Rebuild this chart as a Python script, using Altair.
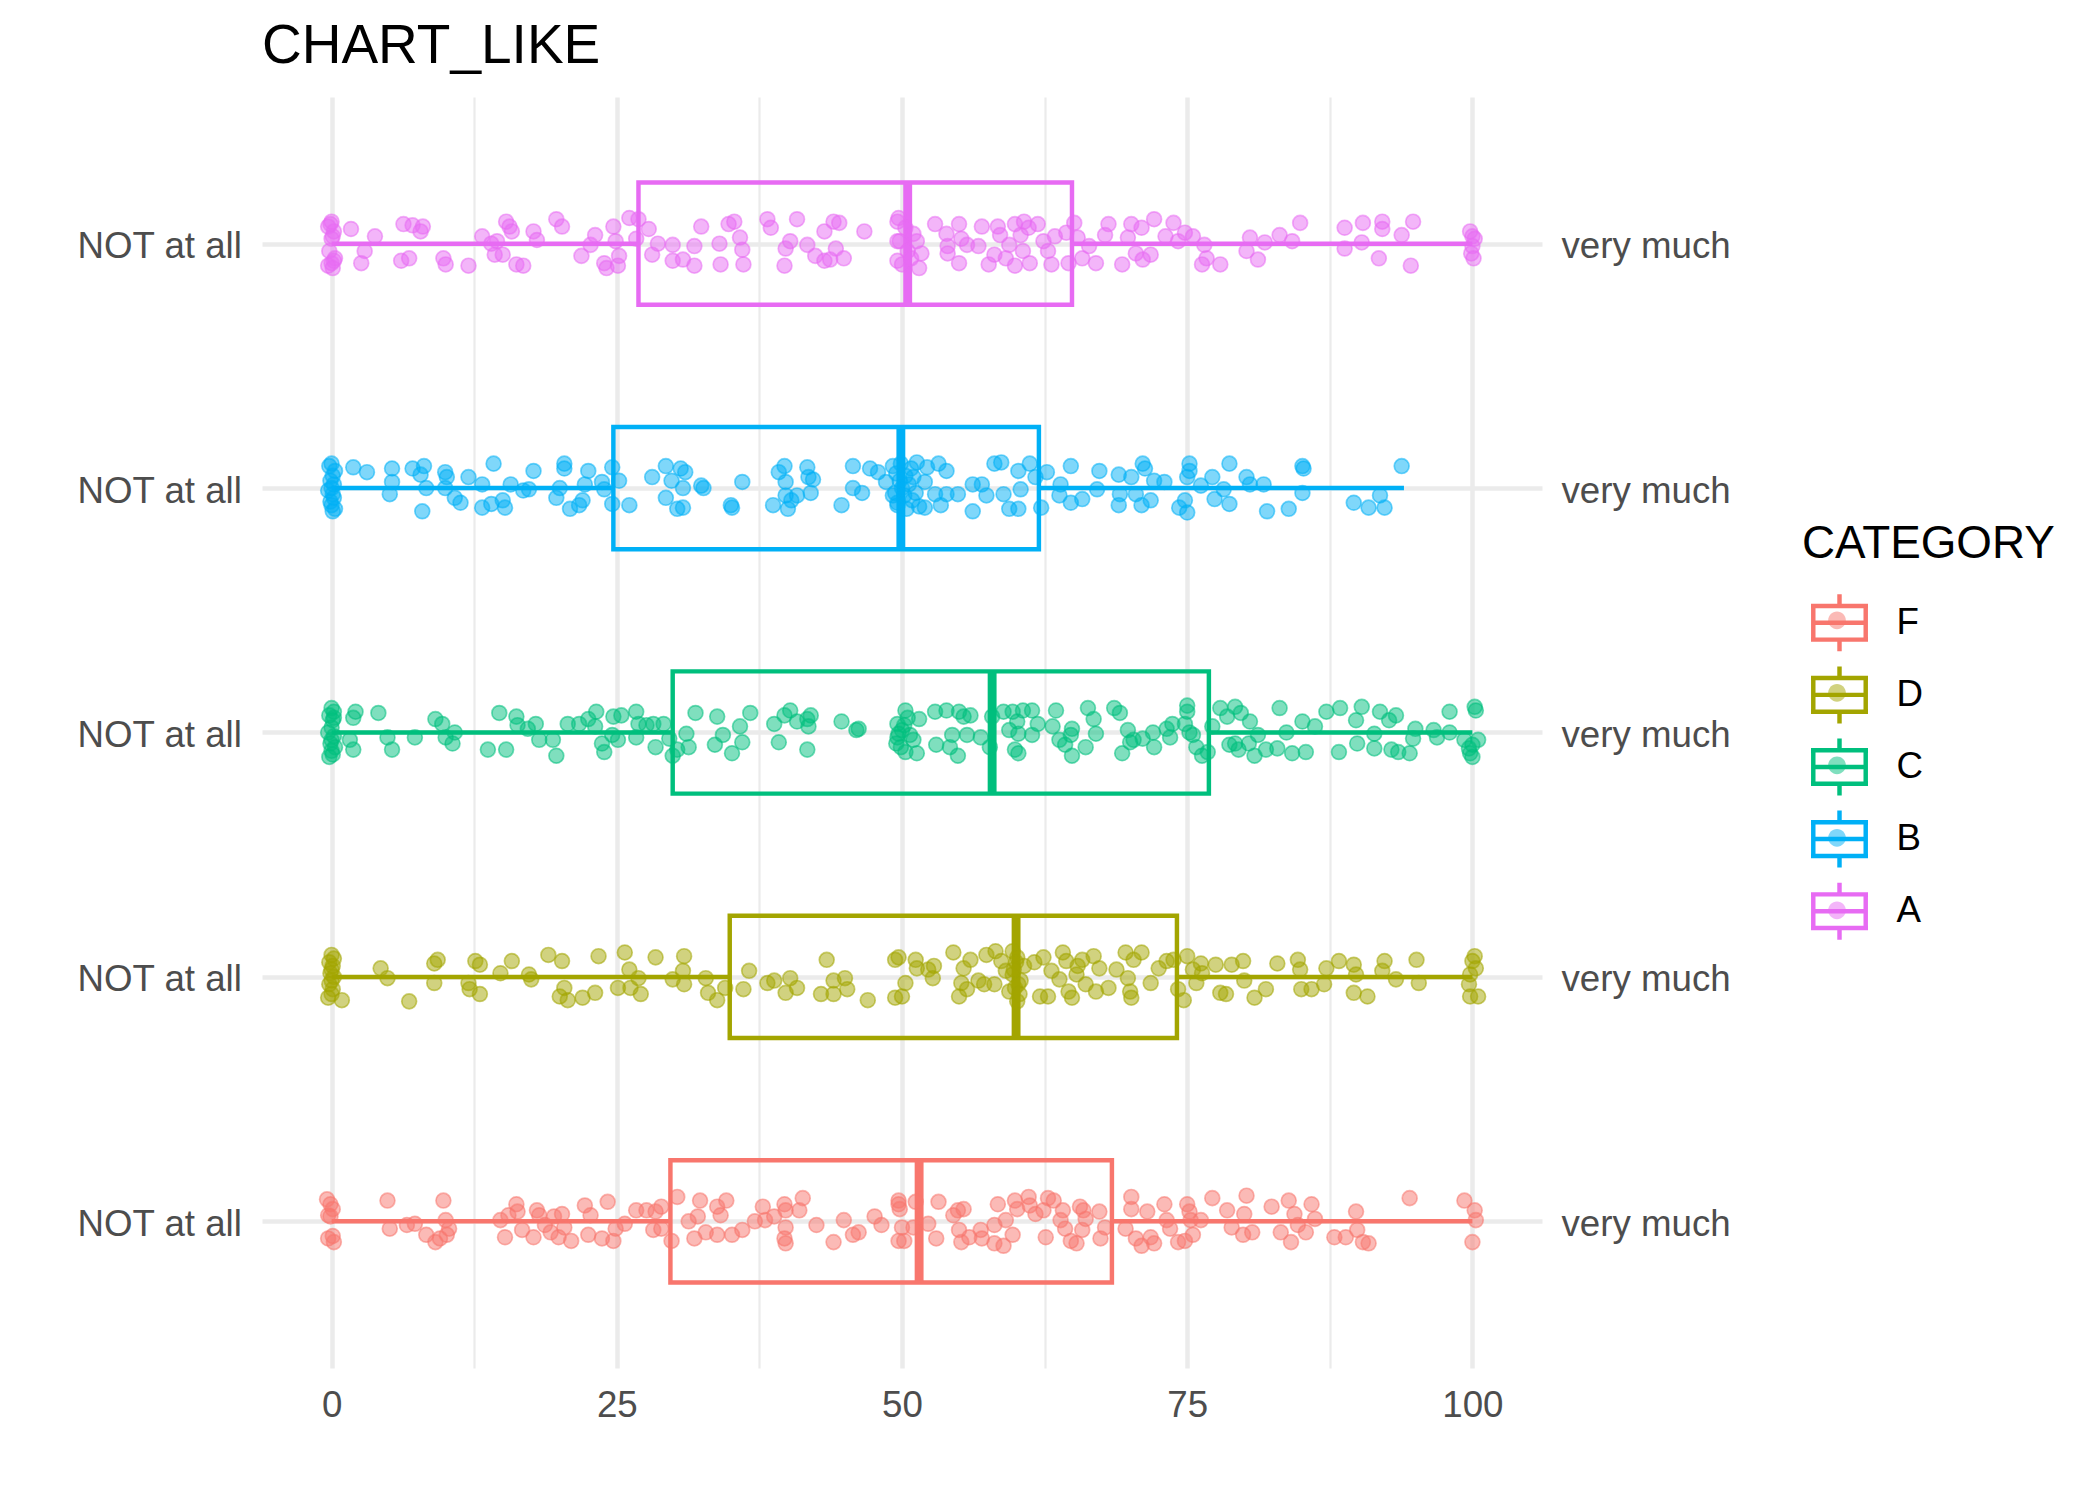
import altair as alt
import pandas as pd

FONT = "Liberation Sans"
TITLE = "CHART_LIKE"
LEGEND_TITLE = "CATEGORY"
CATEGORIES = ["F", "D", "C", "B", "A"]  # bottom to top
COLORS = ["#F8766D", "#A3A500", "#00BF7D", "#00B0F6", "#E76BF3"]
FILL_COLORS = ["rgba(248,118,109,0.5)", "rgba(163,165,0,0.5)", "rgba(0,191,125,0.5)",
               "rgba(0,176,246,0.5)", "rgba(231,107,243,0.5)"]
LEFT_LABEL = "NOT at all"
RIGHT_LABEL = "very much"
X_TICKS = [0, 25, 50, 75, 100]
X_MINOR = [12.5, 37.5, 62.5, 87.5]

# box statistics, order F, D, C, B, A
Q1 = [29.7, 34.9, 29.9, 24.7, 26.9]
MED = [51.5, 60.0, 57.9, 49.9, 50.5]
Q3 = [68.4, 74.1, 76.9, 62.0, 64.9]
LO = [0, 0, 0, 0, 0]
HI = [100, 100, 100, 94, 100]

# (value, vertical jitter in category units)
A_PTS = [(0.0,0.09),(-0.3,0.07),(0.2,0.05),(0.1,0.03),(-0.2,-0.03),(0.3,-0.06),(0.0,-0.08),(0.1,-0.1),(-0.1,0.08),(0.2,-0.07),(0.0,0.02),(-0.3,-0.09),
(1.7,0.06),(3.8,0.03),(2.9,-0.03),(2.6,-0.08),(6.3,0.08),(7.1,0.075),(8.0,0.07),(7.8,0.05),(6.1,-0.07),(6.8,-0.06),(9.8,-0.06),(10.0,-0.085),(12.0,-0.09),(13.2,0.03),(14.0,0.0),(14.5,0.01),(14.3,-0.045),(15.0,-0.045),(15.3,0.09),(15.6,0.07),(15.8,0.05),(16.2,-0.085),(16.8,-0.09),(17.7,0.05),(18.0,0.015),(19.7,0.1),(20.2,0.07),(21.9,-0.05),(22.7,-0.005),(23.1,0.035),(23.9,-0.08),(24.1,-0.1),(25.1,-0.09),(24.7,0.07),(24.9,0.01),(25.2,-0.05),(26.1,0.105),(26.9,0.1),(26.7,0.02),(27.8,0.06),(28.1,-0.045),(28.6,0.0),(29.9,-0.005),(29.9,-0.07),(30.8,-0.065),(31.8,-0.01),(31.8,-0.09),(32.4,0.07),(34.0,0.0),(34.1,-0.085),(34.8,0.08),(35.3,0.09),(35.8,0.025),(36.0,-0.025),(36.1,-0.085),(38.2,0.1),(38.5,0.065),(39.7,-0.09),(39.8,-0.02),(40.2,0.01),(40.8,0.1),(41.7,-0.005),(42.4,-0.05),(43.2,0.05),(43.2,-0.07),(43.7,-0.065),(44.0,0.09),(44.5,0.085),(44.2,-0.02),(44.9,-0.06),(46.7,0.05),(49.6,0.09),(49.6,0.01),(49.6,-0.07),
(49.7,0.105),(49.8,0.01),(50.0,-0.085),(50.3,0.065),(50.5,-0.03),(50.8,-0.06),(51.3,0.01),(51.5,-0.1),(51.7,-0.04),(51.0,0.04),
(52.9,0.08),(53.9,0.04),(54.0,-0.01),(54.0,-0.04),(55.0,0.08),(55.2,0.02),(55.0,-0.08),(55.7,-0.005),(56.7,-0.01),(57.0,0.07),(57.6,-0.085),(58.1,-0.045),(58.4,0.07),(58.6,0.035),(59.1,-0.06),(59.4,-0.005),(59.9,0.08),(59.9,-0.09),(60.4,0.035),(60.6,-0.03),(60.7,0.09),(61.1,0.065),(61.2,-0.08),(61.9,0.08),(62.4,0.01),(62.8,-0.03),(63.1,-0.085),(63.4,0.03),(64.4,0.045),(64.6,-0.08),(65.1,0.085),(65.4,0.025),(65.8,-0.06),(66.4,-0.01),(67.0,-0.08),(67.8,0.035),(68.1,0.08),(69.3,-0.085),(69.8,0.025),(70.1,0.08),(70.5,-0.04),(71.0,0.065),(71.1,-0.065),(71.8,-0.045),(72.1,0.1),(73.1,0.03),(73.8,0.085),(74.2,0.01),(74.8,0.045),(75.5,0.03),(76.3,-0.085),(76.5,-0.005),(76.7,-0.06),(77.9,-0.085),(80.2,-0.03),(80.5,0.025),(81.2,-0.065),(81.8,0.005),(83.1,0.035),(84.2,0.01),(84.9,0.085),(88.8,0.065),(88.8,-0.02),(90.4,0.085),(90.3,0.005),(91.8,-0.06),(92.1,0.09),(92.1,0.06),(93.8,0.035),(94.8,0.09),(94.6,-0.09),
(99.8,0.05),(100.2,0.02),(100.0,-0.01),(99.9,-0.04),(100.1,-0.06),(100.0,0.03)]

B_PTS = [(0.0,0.1),(-0.2,0.09),(0.3,0.07),(0.1,0.05),(-0.1,0.03),(0.2,0.015),(0.0,0.0),(-0.3,-0.01),(0.1,-0.025),(0.2,-0.04),(-0.1,-0.055),(0.0,-0.07),(0.3,-0.085),(0.1,-0.095),
(1.9,0.085),(3.1,0.065),(5.3,0.08),(5.3,0.025),(5.1,-0.025),(7.1,0.08),(8.1,0.09),(7.8,0.055),(8.3,0.0),(7.95,-0.095),(9.96,0.065),(10.1,0.045),(9.96,0.0),(10.8,-0.04),(11.3,-0.06),(12.0,0.045),(13.2,0.015),(13.2,-0.08),(14.2,0.1),(14.0,-0.065),(15.0,-0.05),(15.2,-0.08),(15.7,0.015),(16.8,-0.01),(17.3,-0.005),(17.7,0.07),(19.7,-0.04),(20.0,0.0),(20.4,0.1),(20.4,0.08),(20.9,-0.085),(21.7,-0.07),(22.0,-0.05),(22.2,0.015),(22.5,0.07),(23.7,0.025),(23.9,-0.005),(24.6,0.085),(24.6,-0.065),(25.2,0.03),(26.1,-0.07),(28.1,0.045),(29.3,0.09),(29.3,-0.04),(29.8,0.03),(30.3,-0.085),(30.6,0.08),(31.0,0.065),(30.8,0.0),(30.8,-0.08),(32.6,0.0),(32.4,0.01),(35.0,-0.07),(35.1,-0.08),(36.0,0.025),(38.7,-0.07),(39.2,0.065),(39.7,0.09),(39.8,0.025),(39.8,-0.03),(40.0,-0.085),(40.3,-0.05),(40.8,-0.03),(41.7,0.085),(41.8,0.045),(42.2,0.035),(42.0,-0.02),(44.7,-0.07),(45.7,0.09),(45.7,0.0),(46.5,-0.02),(47.2,0.08),(47.9,0.065),(48.6,0.025),(49.2,-0.03),(49.6,-0.07),
(49.2,0.09),(49.5,0.06),(49.8,0.03),(50.0,0.0),(50.2,-0.03),(49.6,-0.06),(50.4,-0.085),(50.8,0.08),(51.0,0.045),(50.6,0.015),(51.2,-0.02),(50.9,-0.05),(51.5,-0.075),(49.9,0.1),(50.3,0.05),(49.4,-0.02),
(51.3,0.105),(52.2,0.085),(53.2,0.1),(53.9,0.07),(52.0,0.025),(52.0,-0.08),(53.4,-0.07),(52.9,-0.025),(53.9,-0.025),(54.9,-0.025),(56.2,0.015),(56.2,-0.095),(57.0,0.015),(57.4,-0.03),(58.1,0.1),(58.7,0.105),(58.9,-0.025),(59.4,-0.085),(60.2,0.07),(60.2,-0.085),(60.4,-0.005),(61.2,0.1),(61.7,0.045),(62.2,-0.08),(62.7,0.065),(63.9,0.015),(63.8,-0.03),(64.8,0.09),(64.8,-0.06),(65.8,-0.045),(67.3,0.07),(67.1,-0.005),(69.0,0.055),(69.0,-0.07),(69.1,-0.025),(70.1,0.045),(70.5,-0.025),(71.1,0.1),(71.3,0.08),(71.0,-0.07),(71.8,-0.05),(72.1,0.03),(73.0,0.025),(74.3,-0.08),(74.8,-0.05),(75.0,-0.1),(75.2,0.1),(75.2,0.07),(75.0,0.045),(76.2,0.01),(77.2,0.045),(77.4,-0.045),(78.2,-0.005),(78.7,0.1),(78.7,-0.065),(80.2,0.045),(80.5,0.015),(81.7,0.015),(82.0,-0.095),(83.9,-0.085),(85.1,0.09),(85.2,0.08),(85.1,-0.02),(89.6,-0.06),(90.9,-0.08),(91.9,-0.03),(92.3,-0.08),(93.8,0.09)]

C_PTS = [(0.0,0.1),(0.2,0.085),(-0.2,0.07),(0.1,0.05),(0.0,0.02),(-0.3,0.0),(0.2,-0.015),(0.0,-0.03),(-0.1,-0.045),(0.3,-0.06),(0.0,-0.075),(0.1,-0.09),(-0.2,-0.1),(0.2,0.06),
(2.1,0.085),(1.9,0.06),(1.6,-0.03),(1.9,-0.07),(4.1,0.08),(4.9,-0.02),(5.3,-0.07),(7.3,-0.02),(9.1,0.055),(9.7,0.035),(10.0,-0.02),(10.6,-0.045),(10.8,0.0),(13.7,-0.07),(14.7,0.08),(15.3,-0.07),(16.2,0.065),(16.3,0.03),(17.2,0.015),(17.9,0.035),(18.2,-0.03),(19.4,-0.03),(19.7,-0.095),(20.7,0.035),(21.7,0.035),(22.5,0.055),(23.2,0.085),(23.1,0.025),(23.7,-0.045),(23.9,-0.08),(24.6,-0.01),(24.7,0.065),(25.4,0.07),(25.1,-0.03),(26.7,0.085),(26.9,0.035),(26.7,-0.02),(27.6,0.03),(28.2,0.035),(28.4,-0.06),(29.1,0.035),(29.6,-0.025),(29.9,-0.095),(30.3,-0.07),(31.1,-0.005),(31.3,-0.06),(31.9,0.08),(33.6,-0.05),(33.8,0.065),(34.3,-0.01),(35.1,-0.085),(35.8,0.025),(36.0,-0.04),(36.7,0.08),(38.8,0.035),(39.2,-0.04),(39.7,0.07),(40.2,0.09),(40.8,0.045),(41.7,0.055),(42.0,0.07),(41.7,-0.07),(41.8,0.025),(44.7,0.045),(46.0,0.01),(46.2,0.015),(49.6,0.035),(49.6,-0.02),
(50.3,0.09),(50.2,0.03),(50.0,0.01),(50.7,-0.01),(51.0,-0.03),(50.3,-0.08),(51.5,0.055),(51.3,-0.085),(49.7,-0.005),(49.5,-0.045),(50.5,0.06),(49.9,-0.06),
(52.9,0.085),(53.9,0.09),(55.0,0.085),(55.4,0.065),(56.0,0.07),(54.4,-0.01),(53.0,-0.05),(54.2,-0.06),(54.9,-0.095),(55.7,-0.01),(56.9,-0.02),(57.7,-0.06),(57.9,0.065),(58.9,0.085),(59.7,0.085),(60.6,0.09),(61.4,0.09),(60.1,0.045),(59.4,0.01),(60.2,-0.005),(59.9,-0.07),(60.2,-0.085),(61.4,-0.01),(61.9,0.035),(63.2,0.025),(63.5,0.09),(63.8,-0.03),(64.3,-0.05),(64.8,-0.01),(64.9,0.015),(64.9,-0.095),(66.1,-0.06),(66.3,0.1),(66.8,0.055),(67.0,-0.005),(68.6,0.1),(69.1,0.08),(69.3,-0.085),(69.8,0.01),(70.0,-0.04),(70.3,-0.03),(71.1,-0.025),(72.0,0.0),(72.1,-0.06),(73.2,0.015),(73.7,0.035),(73.5,-0.02),(75.0,0.11),(75.0,0.085),(74.8,0.035),(75.2,0.0),(75.5,-0.01),(75.8,-0.06),(76.3,-0.095),(76.8,-0.08),(77.2,0.025),(77.9,0.1),(78.5,0.065),(79.2,0.105),(79.7,0.08),(78.7,-0.05),(79.2,-0.045),(79.5,-0.07),(80.5,0.045),(80.4,-0.045),(80.9,-0.095),(81.2,-0.01),(81.9,-0.07),(82.9,-0.065),(83.1,0.1),(83.7,0.0),(84.2,-0.085),(85.1,0.045),(85.4,-0.08),(86.2,0.025),(87.2,0.085),(88.4,0.1),(88.3,-0.08),(89.8,0.05),(89.9,-0.045),(90.3,0.105),(91.4,-0.005),(91.4,-0.065),(91.9,0.085),(92.7,0.05),(92.9,-0.07),(93.3,0.07),(93.5,-0.08),(94.5,-0.085),(94.8,-0.025),(95.0,0.015),(96.6,0.01),(96.9,-0.02),(98.0,0.085),(98.0,0.0),
(100.2,0.105),(100.3,0.09),(99.3,-0.03),(99.7,-0.065),(99.8,-0.085),(100.0,-0.1),(100.5,-0.03),(100.0,-0.05)]

D_PTS = [(0.0,0.09),(0.2,0.075),(-0.2,0.06),(0.1,0.045),(0.0,0.03),(-0.1,0.015),(0.2,0.0),(0.0,-0.015),(-0.2,-0.03),(0.1,-0.05),(0.0,-0.07),(-0.3,-0.085),
(0.9,-0.095),(4.3,0.035),(4.9,-0.005),(6.8,-0.1),(9.0,0.055),(9.3,0.07),(9.0,-0.025),(12.0,-0.025),(12.1,-0.05),(12.6,0.065),(13.0,0.05),(13.0,-0.07),(14.8,0.015),(15.8,0.065),(17.3,0.01),(17.5,-0.01),(19.0,0.09),(20.2,0.065),(20.0,-0.08),(20.4,-0.045),(20.7,-0.095),(22.0,-0.085),(23.1,-0.065),(23.4,0.085),(25.1,-0.045),(25.7,0.1),(26.1,0.03),(26.2,-0.045),(26.9,-0.005),(27.1,-0.07),(28.4,0.08),(29.9,-0.01),(30.8,0.025),(30.9,0.085),(30.9,-0.03),(32.8,-0.005),(33.0,-0.065),(33.8,-0.095),(34.5,-0.045),(36.6,0.025),(36.1,-0.05),(38.2,-0.025),(38.8,-0.015),(39.8,-0.065),(40.2,-0.005),(40.8,-0.045),(42.9,-0.07),(43.4,0.07),(44.0,-0.015),(44.0,-0.07),(45.0,-0.005),(45.2,-0.05),(47.0,-0.095),(49.4,0.07),(49.4,-0.085),
(49.7,0.08),(50.0,-0.08),(50.3,-0.025),(51.2,0.07),(51.3,0.035),(52.3,0.03),(52.8,0.045),(52.7,-0.005),(54.5,0.1),(55.4,0.035),(56.0,0.07),(55.2,-0.025),(55.0,-0.08),(55.7,-0.05),(56.7,-0.015),(57.2,-0.03),(57.4,0.09),(58.2,0.105),(58.1,-0.03),(58.7,0.065),(59.1,0.025),(59.4,-0.06),(59.7,0.105),(60.1,0.08),(59.7,0.01),(59.9,-0.045),(60.1,-0.1),(60.4,-0.015),(60.7,0.045),(61.6,0.06),(62.1,-0.08),(62.4,0.08),(62.8,-0.08),(63.1,0.025),(63.8,-0.01),(64.1,0.1),(64.4,0.065),(64.6,-0.06),(64.9,-0.085),(65.3,0.01),(65.4,0.045),(65.8,0.07),(66.1,-0.03),(66.8,0.085),(67.0,-0.06),(67.3,0.035),(68.1,-0.045),(68.8,0.03),(69.6,0.1),(69.8,-0.005),(70.0,-0.06),(70.1,-0.085),(70.3,0.07),(71.0,0.1),(71.8,-0.025),(72.5,0.035),(73.2,0.065),(73.8,0.07),(74.2,-0.05),(74.7,-0.095),(75.0,0.085),(75.5,0.03),(76.2,0.055),(75.8,-0.025),(76.3,0.015),(77.5,0.05),(77.9,-0.065),(78.4,-0.07),(78.9,0.05),(79.9,0.065),(80.0,-0.015),(80.9,-0.085),(81.9,-0.05),(82.9,0.055),(84.7,0.07),(84.9,0.03),(85.0,-0.05),(85.9,-0.05),(87.0,-0.03),(87.2,0.035),(88.3,0.065),(89.6,0.05),(89.8,0.01),(89.6,-0.065),(90.8,-0.08),(92.3,0.065),(92.1,0.025),(93.3,-0.01),(95.1,0.07),(95.3,-0.025),
(60.0,0.06),(60.2,-0.03),(59.8,0.03),(60.3,-0.07),
(100.2,0.085),(100.0,0.065),(99.8,0.01),(99.7,-0.03),(99.8,-0.08),(100.5,-0.08),(100.3,0.035)]

F_PTS = [(-0.4,0.09),(-0.1,0.07),(0.1,0.05),(-0.3,0.025),(-0.3,-0.07),(0.2,-0.085),(0.1,-0.06),(-0.1,0.02),
(4.9,0.085),(5.1,-0.03),(6.6,-0.015),(7.3,-0.01),(8.3,-0.055),(9.1,-0.085),(9.5,-0.07),(9.8,0.085),(10.0,0.005),(10.3,-0.03),(10.1,-0.055),(14.8,0.005),(15.2,-0.065),(15.5,0.025),(16.2,0.07),(16.3,0.04),(16.7,-0.035),(17.7,-0.065),(18.0,0.045),(18.2,0.025),(18.7,-0.015),(19.2,-0.045),(19.5,0.02),(19.9,-0.065),(20.2,0.03),(20.4,-0.025),(21.0,-0.08),(22.2,0.065),(22.7,0.025),(22.5,-0.055),(23.7,-0.07),(24.2,0.08),(24.7,-0.08),(24.9,-0.03),(25.7,-0.01),(26.7,0.045),(27.6,0.045),(28.4,0.04),(28.2,-0.035),(28.9,0.06),(28.9,-0.03),(29.8,-0.08),(30.3,0.1),(31.3,0.0),(31.8,-0.07),(32.3,0.085),(32.1,0.02),(32.8,-0.045),(33.8,0.06),(34.1,0.025),(34.6,0.085),(33.8,-0.055),(35.1,-0.055),(36.0,-0.035),(37.1,0.0),(37.8,0.06),(38.0,0.005),(38.8,0.02),(39.7,0.07),(39.8,0.045),(39.8,-0.025),(39.7,-0.07),(39.8,-0.09),(41.0,0.045),(41.3,0.095),(42.5,-0.015),(44.0,-0.085),(44.9,0.005),(45.7,-0.055),(46.2,-0.045),(47.6,0.02),(48.2,-0.015),(49.7,0.07),(49.7,-0.08),
(49.7,0.085),(49.8,0.05),(50.0,-0.025),(50.2,-0.08),(51.2,0.08),(51.0,-0.025),(52.3,-0.01),(53.0,-0.07),(53.2,0.08),(54.5,0.025),(54.9,0.045),(55.4,0.05),(55.0,-0.035),(55.2,-0.085),(55.9,-0.065),(56.9,-0.035),(57.0,-0.07),(58.1,-0.015),(58.1,-0.09),(58.4,0.07),(58.9,-0.1),(59.1,0.005),(59.7,-0.055),(59.9,0.085),(60.1,0.05),(61.1,0.1),(61.2,0.065),(61.7,0.03),(62.4,0.045),(62.8,0.095),(63.3,0.085),(62.6,-0.065),(63.9,0.005),(64.1,0.045),(64.3,-0.03),(64.8,-0.08),(65.3,-0.09),(65.6,0.06),(65.9,0.045),(66.1,0.01),(65.8,-0.035),(67.3,0.04),(67.4,-0.07),(67.8,-0.025),(69.6,-0.03),(70.1,0.1),(70.1,0.05),(70.5,-0.07),(71.0,-0.1),(71.5,0.04),(71.8,-0.065),(72.1,-0.09),(73.0,0.07),(73.2,0.005),(73.5,-0.03),(74.2,-0.085),(74.8,-0.08),(75.0,0.07),(75.2,0.04),(75.3,0.005),(75.5,-0.055),(76.2,0.005),(77.2,0.095),(78.5,0.045),(78.9,-0.025),(79.9,-0.055),(80.2,0.105),(80.0,0.03),(80.7,-0.045),(82.4,0.06),(83.2,-0.045),(83.9,0.085),(84.1,-0.085),(84.4,0.03),(84.7,-0.015),(85.4,-0.045),(85.9,0.07),(86.2,0.01),(87.9,-0.065),(88.9,-0.065),(89.8,0.04),(89.9,-0.035),(90.4,-0.085),(90.9,-0.09),(94.5,0.095),(99.3,0.085),(100.2,0.045),(100.3,0.005),(100.0,-0.085)]

POINTS = {"F": F_PTS, "D": D_PTS, "C": C_PTS, "B": B_PTS, "A": A_PTS}

# ---- build tables ----
FILL_KEYS = [c + "_pt" for c in CATEGORIES]   # separate key so the circle legend stays separate
rows = []
for i, cat in enumerate(CATEGORIES):
    for v, j in POINTS[cat]:
        rows.append({"category": cat, "category_fill": FILL_KEYS[i], "value": v, "ypos": i + 1 + j})
pts = pd.DataFrame(rows)

HALF_BOX = 0.25
pos = [i + 1 for i in range(len(CATEGORIES))]
box = pd.DataFrame({
    "category": CATEGORIES, "q1": Q1, "med": MED, "q3": Q3, "lo": LO, "hi": HI,
    "ypos": pos, "ylo": [p - HALF_BOX for p in pos], "yhi": [p + HALF_BOX for p in pos],
})

xs = alt.Scale(domain=[-6.1, 106.1], nice=False, zero=False)
ys = alt.Scale(domain=[0.4, 5.6], nice=False, zero=False)
stroke_scale = alt.Scale(domain=CATEGORIES, range=COLORS)
fill_scale = alt.Scale(domain=FILL_KEYS, range=FILL_COLORS)

BOX_PATH = ("M-1,-0.59H1 M-1,0.59H1 M-0.92,-0.59V0.59 M0.92,-0.59V0.59 "
            "M-0.92,0H0.92 M0,-1V-0.59 M0,0.59V1")
CIRCLE_PATH = "M-0.31,0A0.31,0.31 0 1,0 0.31,0A0.31,0.31 0 1,0 -0.31,0Z"

legend_common = dict(
    title=LEGEND_TITLE, orient="none", legendX=1540, legendY=425,
    symbolSize=3249, symbolOffset=6.5, labelOffset=26,
    labelFontSize=36.7, labelFont=FONT, titleFontSize=45.8, titleFont=FONT,
    titleFontWeight="normal", titlePadding=24, symbolOpacity=1,
    titleLimit=600, labelLimit=300,
)
stroke_legend = alt.Legend(symbolType=BOX_PATH, symbolStrokeWidth=4.45,
                           symbolFillColor="transparent", labelColor="black",
                           titleColor="black", rowPadding=-3.9, **legend_common)
fill_legend = alt.Legend(symbolType=CIRCLE_PATH, symbolStrokeWidth=0,
                         labelColor="transparent", titleColor="transparent",
                         labelExpr="''", rowPadding=24.5, **legend_common)

axis_style = dict(domain=False, ticks=False, title=None, labelFont=FONT,
                  labelFontSize=36.7, labelColor="#4D4D4D", gridColor="#EBEBEB",
                  labelFlush=False)

x_major = alt.Axis(orient="bottom", values=X_TICKS, grid=True, gridWidth=4.45,
                   labelPadding=19.3, **axis_style)
x_minor = alt.Axis(orient="top", values=X_MINOR, grid=True, gridWidth=2.2,
                   labels=False, **axis_style)
y_left = alt.Axis(orient="left", values=pos, grid=True, gridWidth=4.45,
                  labelExpr=f"'{LEFT_LABEL}'", labelPadding=20.6, labelOffset=3,
                  **axis_style)
y_right = alt.Axis(orient="right", values=pos, grid=False,
                   labelExpr=f"'{RIGHT_LABEL}'", labelPadding=19, labelAlign="left",
                   labelOffset=3, **axis_style)

stroke_enc = alt.Stroke("category:N", scale=stroke_scale, legend=stroke_legend)

boxes = alt.Chart(box).mark_rect(filled=False, strokeWidth=4.45).encode(
    x=alt.X("q1:Q", scale=xs, axis=x_minor), x2="q3:Q",
    y=alt.Y("ylo:Q", scale=ys, axis=y_right), y2="yhi:Q",
    stroke=stroke_enc,
)
whisk_lo = alt.Chart(box).mark_rule(strokeWidth=4.45).encode(
    x=alt.X("lo:Q", scale=xs, axis=None), x2="q1:Q",
    y=alt.Y("ypos:Q", scale=ys, axis=None), stroke=stroke_enc,
)
whisk_hi = alt.Chart(box).mark_rule(strokeWidth=4.45).encode(
    x=alt.X("q3:Q", scale=xs, axis=None), x2="hi:Q",
    y=alt.Y("ypos:Q", scale=ys, axis=None), stroke=stroke_enc,
)
median = alt.Chart(box).mark_rule(strokeWidth=8.9).encode(
    x=alt.X("med:Q", scale=xs, axis=None),
    y=alt.Y("ylo:Q", scale=ys, axis=None), y2="yhi:Q", stroke=stroke_enc,
)
points = alt.Chart(pts).mark_point(filled=True, shape="circle", size=220,
                                   strokeWidth=1.7, strokeOpacity=0.55, opacity=1).encode(
    x=alt.X("value:Q", scale=xs, axis=x_major),
    y=alt.Y("ypos:Q", scale=ys, axis=y_left),
    fill=alt.Fill("category_fill:N", scale=fill_scale, legend=fill_legend),
    stroke=stroke_enc,
)

chart = alt.layer(boxes, whisk_lo, whisk_hi, median, points).resolve_axis(
    x="independent", y="independent"
).properties(
    width=1280, height=1271,
    padding={"left": 262, "top": 97, "right": 557, "bottom": 131},
    autosize=alt.AutoSizeParams(type="none"),
    background="white",
    title=alt.TitleParams(TITLE, anchor="start", fontSize=55, font=FONT,
                          fontWeight="normal", color="black", offset=22, frame="group"),
).configure_view(strokeWidth=0)

chart.save("out.html", embed_options={"renderer": "svg", "actions": False})
